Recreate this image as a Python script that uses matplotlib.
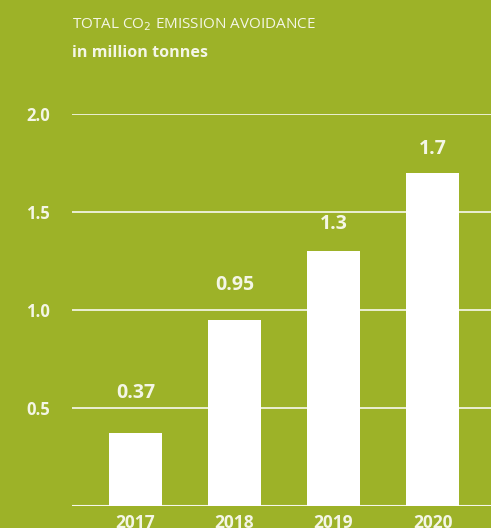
import matplotlib.pyplot as plt

## data
years = ["2017", "2018", "2019", "2020"]
avoidance = [0.37, 0.95, 1.3, 1.7]
value_labels = ["0.37", "0.95", "1.3", "1.7"]
y_ticks = [0.5, 1.0, 1.5, 2.0]

## style
bg = "#9db228"
txt = "#f4f6e6"
label_gap = [30, 25, 17, 14]  # pixels above bar top, as in the original layout

plt.rcParams["font.family"] = ["Open Sans", "DejaVu Sans"]

fig = plt.figure(figsize=(4.91, 5.28), dpi=100, facecolor=bg)
ax = fig.add_axes([72 / 491, 1 - 506 / 528, 1 - 72 / 491, 392 / 528])
ax.set_facecolor(bg)

x = range(len(years))
ax.bar(x, avoidance, width=0.54, color="white", zorder=3)

for yt in y_ticks:
    ax.axhline(yt, color="white", lw=1.3, alpha=0.85, zorder=1)
ax.axhline(0, color="white", lw=1.5, alpha=0.9, zorder=4)

ax.set_xlim(-0.64, 3.59)
ax.set_ylim(0, 2.0)
ax.set_yticks(y_ticks)
ax.set_yticklabels(["{:.1f}".format(v) for v in y_ticks], fontsize=12,
                   fontweight="bold", color=txt)
ax.tick_params(axis="y", length=0, pad=16)
ax.set_xticks(list(x))
ax.set_xticklabels(years, fontsize=12.5, fontweight="bold", color=txt)
ax.tick_params(axis="x", length=0, pad=6)
for s in ax.spines.values():
    s.set_visible(False)

for i, v in enumerate(avoidance):
    ax.annotate(value_labels[i], (i, v), xytext=(0, label_gap[i] * 0.72),
                textcoords="offset points", ha="center", va="bottom",
                fontsize=14, fontweight="bold", color=txt, zorder=5)

fig.text(72 / 491, 1 - 25 / 528, "TOTAL CO$_2$ EMISSION AVOIDANCE", fontsize=11,
         color=txt, va="center", ha="left")
fig.text(72 / 491, 1 - 53 / 528, "in million tonnes", fontsize=11.6,
         fontweight="bold", color=txt, va="center", ha="left")

fig.savefig("out.png", dpi=100, facecolor=bg)
